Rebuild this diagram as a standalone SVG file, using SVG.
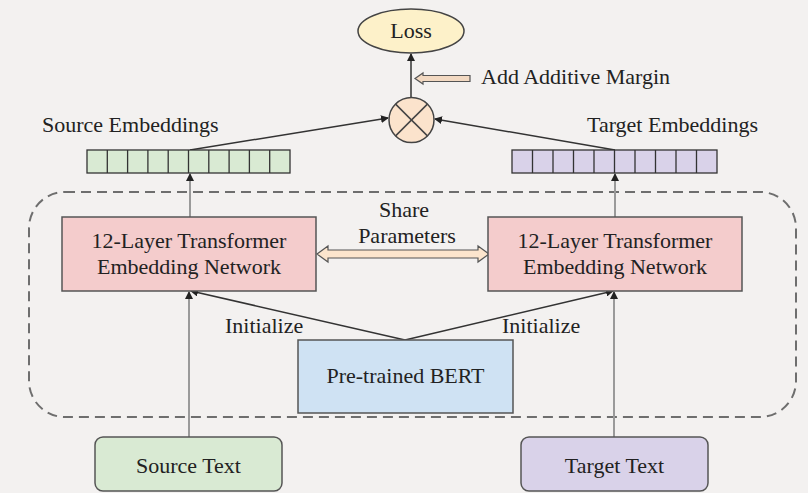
<svg xmlns="http://www.w3.org/2000/svg" width="808" height="493" viewBox="0 0 808 493">
  <defs>
    <style>
      text { font-family: "Liberation Serif", "DejaVu Serif", "Times New Roman", Times, serif; font-size: 22px; fill: #222; }
      .mid { text-anchor: middle; }
      .box { stroke: #555; stroke-width: 1.5; }
      .cell { stroke: #333; stroke-width: 1.3; }
      .dark { stroke: #333; stroke-width: 1.5; fill: none; }
      .gray { stroke: #9a9a9a; stroke-width: 2; fill: none; }
    </style>
    <marker id="tip" viewBox="0 0 8 8" refX="7" refY="4" markerWidth="8" markerHeight="8" markerUnits="userSpaceOnUse" orient="auto">
      <path d="M0,0 L8,4 L0,8 Z" fill="#222"/>
    </marker>
  </defs>

  <rect width="808" height="493" fill="#f3f1f0"/>

  <!-- shared encoder region -->
  <rect id="encoder-region" x="29" y="192" width="767" height="225" rx="36" ry="36" fill="none" stroke="#6e6e6e" stroke-width="2" stroke-dasharray="10,6"/>

  <!-- connectors -->
  <g id="connectors">
    <line class="dark" x1="411" y1="97" x2="411" y2="54" marker-end="url(#tip)"/>
    <line class="dark" x1="190" y1="150" x2="388" y2="118" marker-end="url(#tip)"/>
    <line class="dark" x1="615" y1="150" x2="435" y2="119" marker-end="url(#tip)"/>
    <line class="gray" x1="190" y1="217" x2="190" y2="174" marker-end="url(#tip)"/>
    <line class="gray" x1="615" y1="217" x2="615" y2="174" marker-end="url(#tip)"/>
    <line class="gray" x1="189" y1="437" x2="189" y2="292" marker-end="url(#tip)"/>
    <line class="gray" x1="614" y1="437" x2="614" y2="292" marker-end="url(#tip)"/>
    <line class="dark" x1="405" y1="340" x2="191" y2="291" marker-end="url(#tip)"/>
    <line class="dark" x1="405" y1="340" x2="613" y2="291" marker-end="url(#tip)"/>
    <!-- margin input -->
    <polygon points="415,78.5 423,73 423,75.5 470,75.5 470,81.5 423,81.5 423,84" fill="#f2d9c2" stroke="#555" stroke-width="1.2"/>
    <!-- parameter sharing -->
    <polygon points="317,254 328,246 328,250 478,250 478,246 489,254 478,262 478,258 328,258 328,262" fill="#fce5cd" stroke="#555" stroke-width="1.2"/>
  </g>

  <g id="loss">
    <ellipse cx="411" cy="31" rx="53" ry="22" fill="#fdf1c9" stroke="#444" stroke-width="1.5"/>
    <text class="mid" x="411" y="38">Loss</text>
  </g>

  <g id="margin-label">
    <text x="481" y="84">Add Additive Margin</text>
  </g>

  <g id="combine">
    <circle cx="411.5" cy="120" r="22.5" fill="#fbe3cc" stroke="#444" stroke-width="1.5"/>
    <line x1="395.6" y1="104.1" x2="427.4" y2="135.9" stroke="#444" stroke-width="1.5"/>
    <line x1="427.4" y1="104.1" x2="395.6" y2="135.9" stroke="#444" stroke-width="1.5"/>
  </g>

  <g id="source-embeddings">
    <text x="42" y="132">Source Embeddings</text>
    <rect class="cell" x="87" y="150" width="203" height="23" fill="#d9ead3"/>
    <path class="cell" d="M107.3,150V173 M127.6,150V173 M147.9,150V173 M168.2,150V173 M188.5,150V173 M208.8,150V173 M229.1,150V173 M249.4,150V173 M269.7,150V173"/>
  </g>

  <g id="target-embeddings">
    <text x="587" y="132">Target Embeddings</text>
    <rect class="cell" x="512" y="150" width="205" height="23" fill="#d9d2e9"/>
    <path class="cell" d="M532.5,150V173 M553,150V173 M573.5,150V173 M594,150V173 M614.5,150V173 M635,150V173 M655.5,150V173 M676,150V173 M696.5,150V173"/>
  </g>

  <g id="source-encoder">
    <rect class="box" x="62" y="217" width="254" height="74" fill="#f4cccc"/>
    <text class="mid" x="189" y="248">12-Layer Transformer</text>
    <text class="mid" x="189" y="274">Embedding Network</text>
  </g>

  <g id="target-encoder">
    <rect class="box" x="488" y="217" width="254" height="74" fill="#f4cccc"/>
    <text class="mid" x="615" y="248">12-Layer Transformer</text>
    <text class="mid" x="615" y="274">Embedding Network</text>
  </g>

  <g id="share-label">
    <text class="mid" x="404" y="217">Share</text>
    <text class="mid" x="407" y="243">Parameters</text>
  </g>

  <g id="init-labels">
    <text x="225" y="333">Initialize</text>
    <text x="502" y="333">Initialize</text>
  </g>

  <g id="bert">
    <rect class="box" x="298" y="340" width="215" height="73" fill="#cfe2f3"/>
    <text class="mid" x="405.5" y="383">Pre-trained BERT</text>
  </g>

  <g id="source-text">
    <rect class="box" x="95" y="437" width="187" height="54" rx="8" ry="8" fill="#d9ead3"/>
    <text class="mid" x="188.5" y="473">Source Text</text>
  </g>

  <g id="target-text">
    <rect class="box" x="521" y="437" width="187" height="54" rx="8" ry="8" fill="#d9d2e9"/>
    <text class="mid" x="614.5" y="473">Target Text</text>
  </g>
</svg>
